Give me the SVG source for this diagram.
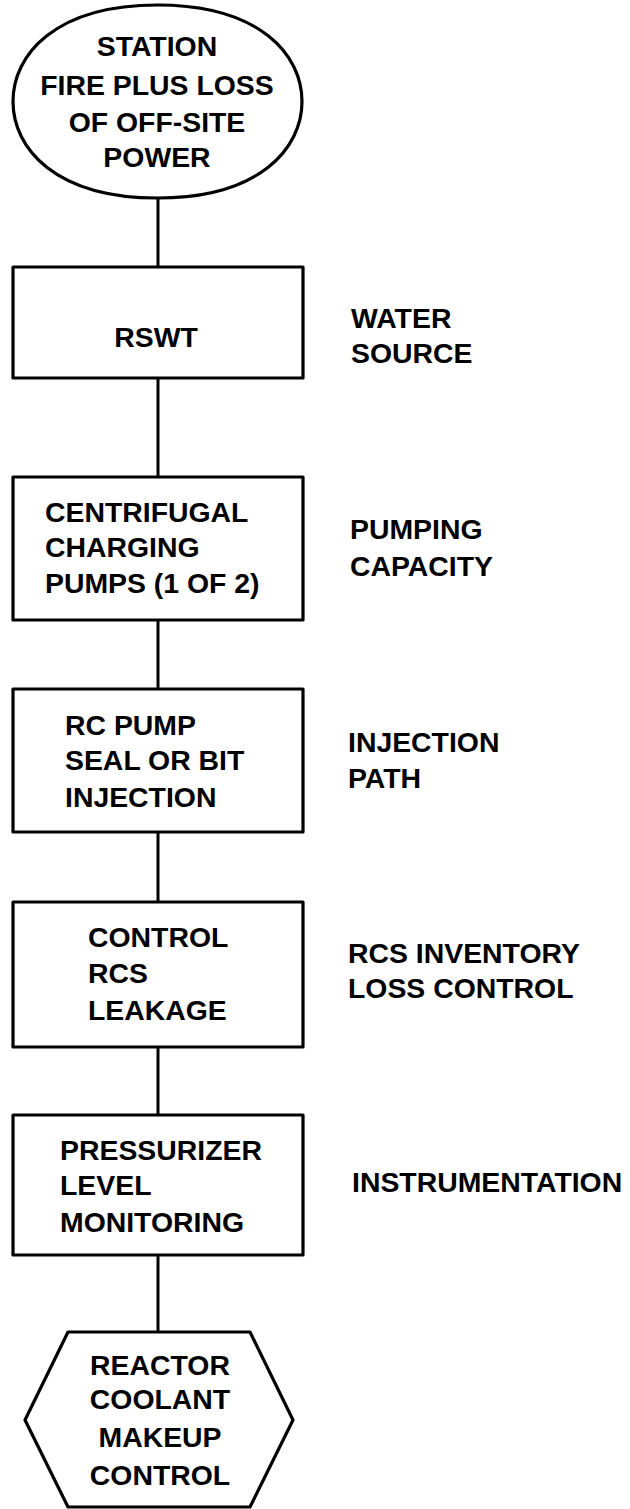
<svg xmlns="http://www.w3.org/2000/svg" width="630" height="1509" viewBox="0 0 630 1509">
<style>
.shape{fill:#fff;stroke:#000;stroke-width:3.2;stroke-linejoin:round}
.conn line{stroke:#000;stroke-width:3}
text{font-family:"Liberation Sans",Arial,Helvetica,sans-serif;font-weight:bold;font-size:28.4px;fill:#000}
.c{text-anchor:middle}
</style>
<rect width="630" height="1509" fill="#fff"/>
<g id="connectors" class="conn">
<line x1="158" y1="198" x2="158" y2="267"/>
<line x1="158" y1="378" x2="158" y2="477"/>
<line x1="158" y1="620" x2="158" y2="689"/>
<line x1="158" y1="832" x2="158" y2="902"/>
<line x1="158" y1="1047" x2="158" y2="1115"/>
<line x1="158" y1="1255" x2="158" y2="1332"/>
</g>
<g id="start">
<path class="shape" d="M157.5,5 C260,5 302,55 302,101.5 C302,148 260,198 157.5,198 C55,198 13,148 13,101.5 C13,55 55,5 157.5,5 Z"/>
<text class="c" x="157" y="56">STATION</text>
<text class="c" x="157" y="95">FIRE PLUS LOSS</text>
<text class="c" x="157" y="132">OF OFF-SITE</text>
<text class="c" x="157" y="167">POWER</text>
</g>
<g id="rswt">
<rect class="shape" x="13" y="267" width="290" height="111"/>
<text class="c" x="156" y="347">RSWT</text>
</g>
<g id="pumps">
<rect class="shape" x="13" y="477" width="290" height="143"/>
<text x="45" y="522">CENTRIFUGAL</text>
<text x="45" y="557">CHARGING</text>
<text x="45" y="593">PUMPS (1 OF 2)</text>
</g>
<g id="injection">
<rect class="shape" x="13" y="689" width="290" height="143"/>
<text x="65" y="735">RC PUMP</text>
<text x="65" y="770">SEAL OR BIT</text>
<text x="65" y="807">INJECTION</text>
</g>
<g id="leakage">
<rect class="shape" x="13" y="902" width="290" height="145"/>
<text x="88" y="947">CONTROL</text>
<text x="88" y="983">RCS</text>
<text x="88" y="1020">LEAKAGE</text>
</g>
<g id="pressurizer">
<rect class="shape" x="13" y="1115" width="290" height="140"/>
<text x="60" y="1160">PRESSURIZER</text>
<text x="60" y="1195">LEVEL</text>
<text x="60" y="1232">MONITORING</text>
</g>
<g id="makeup">
<polygon class="shape" points="68,1332 250,1332 293,1420 250,1507 68,1507 25,1420"/>
<text class="c" x="160" y="1375">REACTOR</text>
<text class="c" x="160" y="1409">COOLANT</text>
<text class="c" x="160" y="1447">MAKEUP</text>
<text class="c" x="160" y="1485">CONTROL</text>
</g>
<g id="labels">
<text x="351" y="328">WATER</text>
<text x="351" y="363">SOURCE</text>
<text x="350" y="539">PUMPING</text>
<text x="350" y="576">CAPACITY</text>
<text x="348" y="752">INJECTION</text>
<text x="348" y="788">PATH</text>
<text x="348" y="963">RCS INVENTORY</text>
<text x="348" y="998">LOSS CONTROL</text>
<text x="352" y="1192">INSTRUMENTATION</text>
</g>
</svg>
